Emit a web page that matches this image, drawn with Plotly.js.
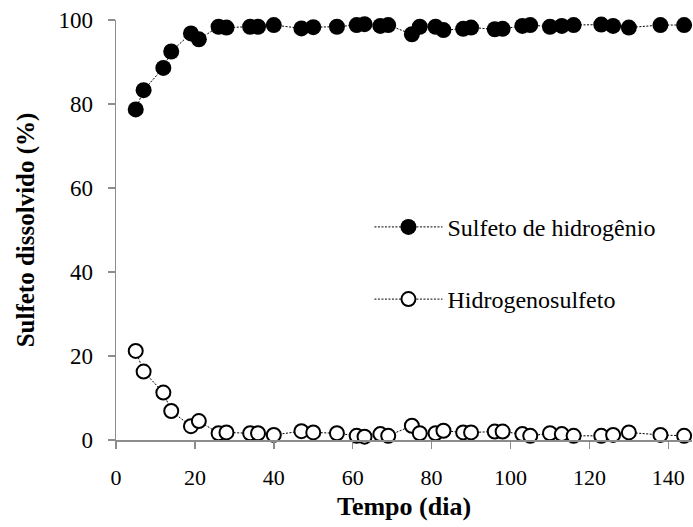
<!DOCTYPE html>
<html>
<head>
<meta charset="utf-8">
<script src="https://cdn.plot.ly/plotly-3.0.1.min.js"></script>
<style>
html,body{margin:0;padding:0;background:#fff;}
#chart{width:693px;height:527px;}
</style>
</head>
<body>
<div id="chart"></div>
<script>
const days = [5,7,12,14,19,21,26,28,34,36,40,47,50,56,61,63,67,69,75,77,81,83,88,90,96,98,103,105,110,113,116,123,126,130,138,144];
const sulfetoHidrogenio = [78.7,83.3,88.6,92.5,96.8,95.4,98.4,98.2,98.4,98.4,98.8,98.0,98.3,98.4,98.8,99.0,98.6,98.8,96.6,98.4,98.4,97.6,97.9,98.2,97.8,97.9,98.6,98.8,98.4,98.6,98.8,98.9,98.6,98.2,98.8,98.8];
const hidrogenosulfeto = [21.2,16.3,11.3,6.9,3.3,4.5,1.6,1.8,1.6,1.6,1.2,2.1,1.8,1.6,1.0,0.8,1.4,1.0,3.4,1.6,1.6,2.2,1.8,1.8,2.0,2.0,1.4,1.0,1.6,1.4,1.0,1.0,1.2,1.8,1.2,1.0];
const seriesNames = ["Sulfeto de hidrogênio", "Hidrogenosulfeto"];
const xTicks = [0,20,40,60,80,100,120,140];
const yTicks = [0,20,40,60,80,100];

const serif = "Times New Roman";
const axisGray = "#8c8c8c";

const traces = [
  {
    x: days, y: sulfetoHidrogenio, name: seriesNames[0], type: "scatter", mode: "lines+markers",
    line: {color: "#000", width: 1, dash: "2px,1.5px"},
    marker: {symbol: "circle", size: 16, color: "#000", line: {width: 0}},
    cliponaxis: false, legendgroup: "a"
  },
  {
    x: days, y: hidrogenosulfeto, name: seriesNames[1], type: "scatter", mode: "lines+markers",
    line: {color: "#000", width: 1, dash: "2px,1.5px"},
    marker: {symbol: "circle", size: 14, color: "#fff", line: {width: 2, color: "#000"}},
    cliponaxis: false, legendgroup: "b"
  }
];

const layout = {
  width: 693, height: 527,
  margin: {l: 116, r: 1, t: 20, b: 87, pad: 0},
  paper_bgcolor: "#fff", plot_bgcolor: "#fff",
  font: {family: serif, color: "#000", size: 22},
  showlegend: true,
  legend: {
    x: 0.44, xanchor: "left", y: 0.56, yanchor: "top",
    font: {family: serif, size: 24, color: "#000"},
    bgcolor: "rgba(0,0,0,0)", borderwidth: 0,
    itemwidth: 68, tracegroupgap: 38, traceorder: "grouped"
  },
  xaxis: {
    range: [0, 146], tickvals: xTicks, ticktext: xTicks.map(String),
    showline: true, linecolor: axisGray, linewidth: 1.5,
    ticks: "outside", ticklen: 7, tickwidth: 1.5, tickcolor: axisGray,
    showgrid: false, zeroline: false,
    tickfont: {family: serif, size: 22, color: "#000"},
    ticklabelstandoff: 10,
    title: {text: "Tempo (dia)", font: {family: serif, size: 26, weight: "bold", color: "#000"}, standoff: 8}
  },
  yaxis: {
    range: [0, 100], tickvals: yTicks, ticktext: yTicks.map(String),
    showline: true, linecolor: axisGray, linewidth: 1.5,
    ticks: "outside", ticklen: 7, tickwidth: 1.5, tickcolor: axisGray,
    showgrid: false, zeroline: false,
    tickfont: {family: serif, size: 23, color: "#000"},
    ticklabelstandoff: 10,
    title: {text: "Sulfeto dissolvido (%)", font: {family: serif, size: 25, weight: "bold", color: "#000"}, standoff: 16}
  }
};

Plotly.newPlot("chart", traces, layout, {displayModeBar: false, staticPlot: true});
</script>
</body>
</html>
